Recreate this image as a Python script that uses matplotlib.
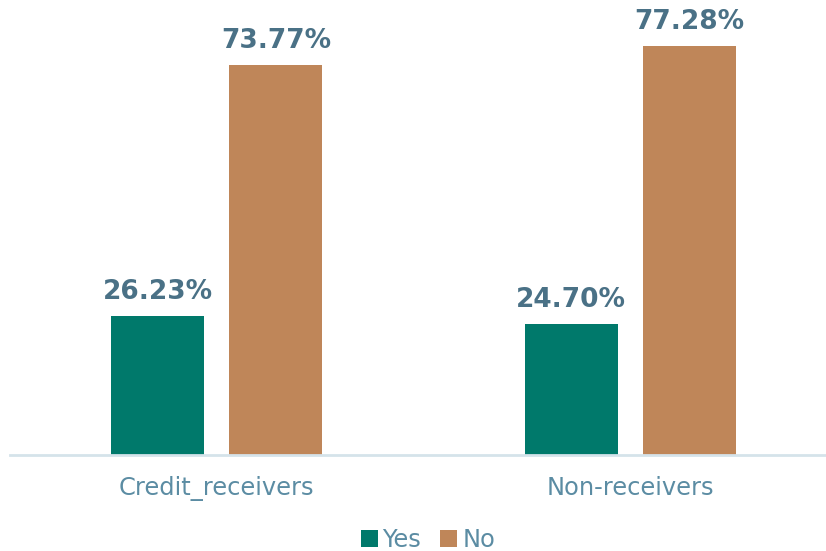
import matplotlib.pyplot as plt
import numpy as np

plt.rcParams['font.family'] = ['DejaVu Sans']

groups = ["Credit_receivers", "Non-receivers"]
yes_vals = [26.23, 24.70]
no_vals = [73.77, 77.28]

teal = "#00796B"
tan = "#BF8659"
label_col = "#4A7186"
tick_col = "#5B8CA3"

fig = plt.figure(figsize=(8.26, 5.51), dpi=100)
ax = fig.add_axes([10 / 826, 96 / 551, 816 / 826, 455 / 551])

x = np.arange(len(groups))
w = 0.225
off = 0.143
b1 = ax.bar(x - off, yes_vals, w, color=teal, label="Yes")
b2 = ax.bar(x + off, no_vals, w, color=tan, label="No")

for bars, vals in ((b1, yes_vals), (b2, no_vals)):
    for rect, v in zip(bars, vals):
        ax.annotate(f"{v:.2f}%", (rect.get_x() + rect.get_width() / 2, v),
                    xytext=(0, 8), textcoords="offset points",
                    ha="center", va="bottom", fontsize=19,
                    fontweight="bold", color=label_col)

ax.set_xlim(-0.5, -0.5 + 816 / 413.5)
ax.set_ylim(0, 86.06)
ax.set_yticks([])
ax.set_xticks(x)
ax.set_xticklabels(groups, fontsize=17.4, color=tick_col)
ax.tick_params(axis="x", length=0, pad=15)
for s in ("top", "right", "left"):
    ax.spines[s].set_visible(False)
ax.spines["bottom"].set_color("#D5E3EA")
ax.spines["bottom"].set_linewidth(2)

leg = fig.legend(handles=[b1, b2], loc="lower center", ncol=2,
                 bbox_to_anchor=(0.518, -0.042), frameon=False,
                 fontsize=17.4, handlelength=0.7, handleheight=0.7,
                 handletextpad=0.2, columnspacing=0.8)
for t in leg.get_texts():
    t.set_color(tick_col)

fig.savefig("out.png", dpi=100)
